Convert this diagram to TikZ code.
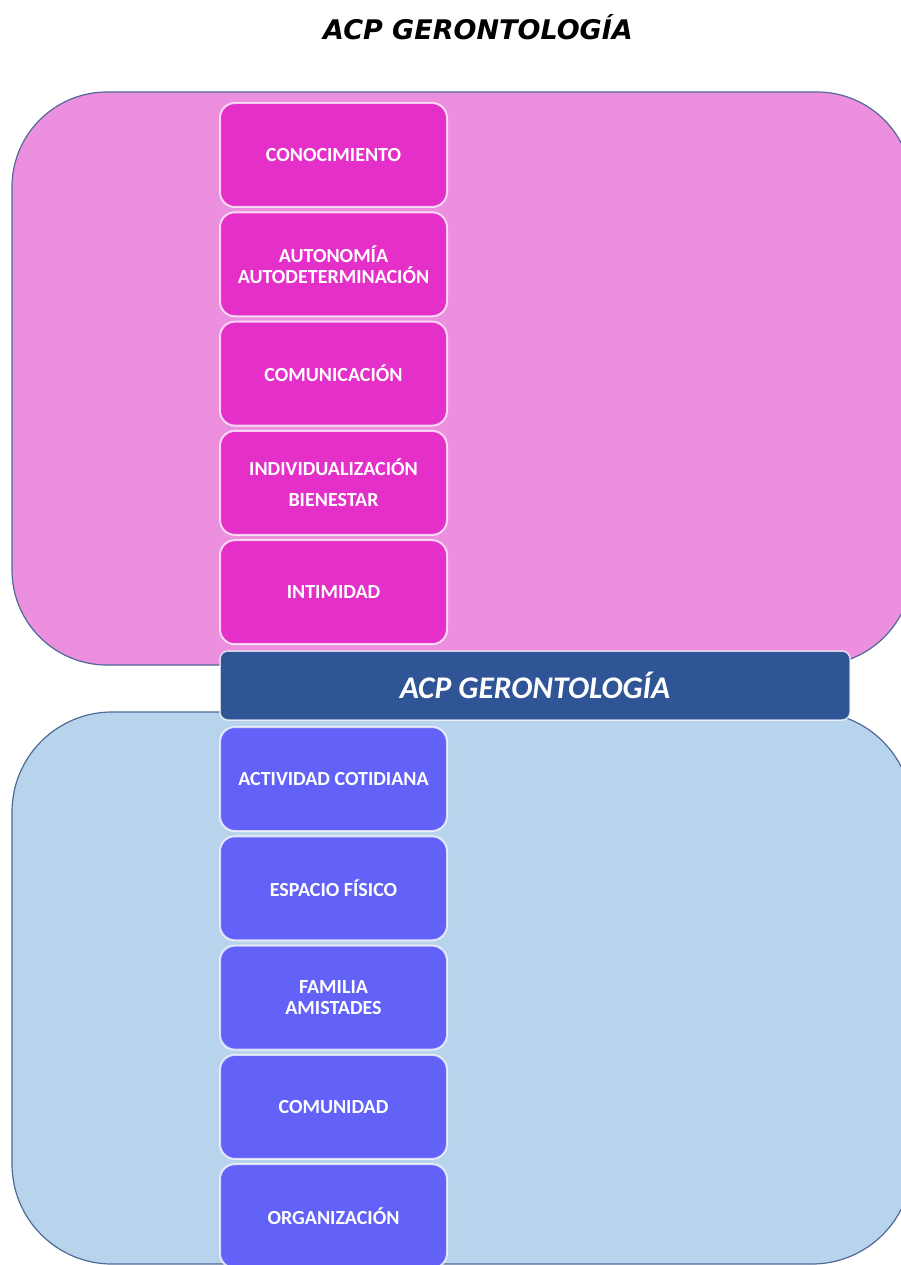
\documentclass[tikz,border=0pt]{standalone}
\usepackage{fontspec}
\setmainfont{Carlito}
\newfontfamily\titlefont{DejaVu Sans}
\usetikzlibrary{positioning}
\definecolor{pinkbg}{RGB}{235,143,222}
\definecolor{pinkbox}{RGB}{229,47,201}
\definecolor{bluebg}{RGB}{184,211,236}
\definecolor{bluebox}{RGB}{98,98,249}
\definecolor{barblue}{RGB}{47,85,151}
\definecolor{edgeblue}{RGB}{80,105,150}

\begin{document}
\begin{tikzpicture}[x=1pt,y=-1pt,
	area/.style={draw=edgeblue, line width=1.2pt},
	itembox/.style={rectangle, rounded corners=15pt, draw=white, draw opacity=0.75, line width=2pt, outer sep=0pt,
		minimum width=227pt, minimum height=104pt, text=white, font=\bfseries\fontsize{20}{21}\selectfont, align=center},
	topbox/.style={itembox, fill=pinkbox},
	botbox/.style={itembox, fill=bluebox},
	barbox/.style={rectangle, rounded corners=8pt, draw=white, draw opacity=0.75, line width=1.5pt, outer sep=0pt, fill=barblue,
		minimum width=630pt, minimum height=69pt, text=white, font=\bfseries\itshape\fontsize{31.5}{36}\selectfont}
	]
	\useasboundingbox (0,0) rectangle (901,1265);
	\clip (0,0) rectangle (901,1265);
	
	% title
	\node[font=\titlefont\bfseries\itshape\fontsize{27}{30}\selectfont] (title) at (478,27) {ACP GERONTOLOGÍA};
	
	% background areas
	\draw[area, fill=pinkbg, rounded corners=95pt] (12,92) rectangle (912,665);
	\draw[area, fill=bluebg, rounded corners=100pt] (12,712) rectangle (912,1264);
	
	% upper column
	\node[topbox] (c1) at (333.5,155) {CONOCIMIENTO};
	\node[topbox, below=5.3pt of c1] (c2) {AUTONOMÍA\\AUTODETERMINACIÓN};
	\node[topbox, below=5.3pt of c2] (c3) {COMUNICACIÓN};
	\node[topbox, below=5.3pt of c3] (c4) {INDIVIDUALIZACIÓN\\[10pt]BIENESTAR};
	\node[topbox, below=5.3pt of c4] (c5) {INTIMIDAD};
	
	% central bar
	\node[barbox, anchor=north west] (bar) at ([yshift=-6.8pt]c5.south west) {ACP GERONTOLOGÍA};
	
	% lower column
	\node[botbox, anchor=north west] (d1) at ([yshift=-7pt]bar.south west) {ACTIVIDAD COTIDIANA};
	\node[botbox, below=5.3pt of d1] (d2) {ESPACIO FÍSICO};
	\node[botbox, below=5.3pt of d2] (d3) {FAMILIA\\AMISTADES};
	\node[botbox, below=5.3pt of d3] (d4) {COMUNIDAD};
	\node[botbox, below=5.3pt of d4] (d5) {ORGANIZACIÓN};
	
\end{tikzpicture}
\end{document}
